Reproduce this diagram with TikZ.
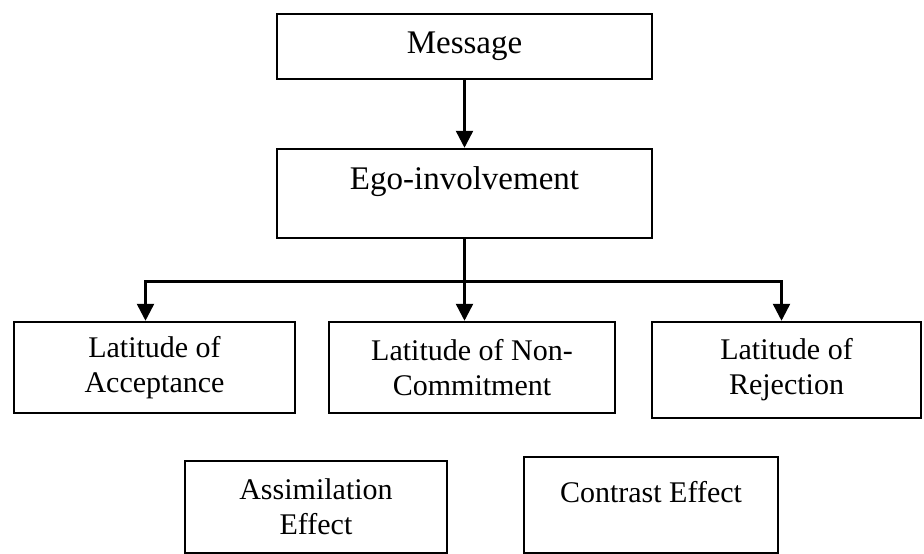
\documentclass[tikz,border=0pt]{standalone}
\usepackage{fontspec}
\setmainfont{Liberation Serif}
\usetikzlibrary{arrows.meta}

\begin{document}
\begin{tikzpicture}[
  x={(1pt,0pt)},
  y={(0pt,-1pt)},
  box/.style={draw, line width=2.5pt, inner sep=0pt,
    font=\fontsize{30}{35}\selectfont, align=center},
  bigbox/.style={box, font=\fontsize{33}{38}\selectfont},
  arr/.style={line width=2.5pt, -{Triangle[width=17pt,length=17pt]}}
]
\useasboundingbox (0,0) rectangle (924,554);

% top of the chain
\node[bigbox, minimum width=375pt, minimum height=65pt] (msg) at (464.5,46.5) {Message};
\node[bigbox, minimum width=375pt, minimum height=89pt, text depth=31pt] (ego) at (464.5,193.5) {Ego-involvement};

% the three latitudes
\node[box, minimum width=281pt, minimum height=91pt] (acc) at (154.5,367.5) {Latitude of\\Acceptance};
\node[box, minimum width=286pt, minimum height=91pt] (ncm) at (472,367.5) {Latitude of Non-\\Commitment};
\node[box, minimum width=269pt, minimum height=96pt] (rej) at (786.5,370) {Latitude of\\Rejection};

% effects
\node[box, minimum width=262pt, minimum height=92pt] (asm) at (316,507) {Assimilation\\Effect};
\node[box, minimum width=254pt, minimum height=96pt, text depth=26pt] (con) at (651,505) {Contrast Effect};

\coordinate (fork) at ([yshift=-42pt]ego.south);

\draw[arr] (msg) -- (ego);
\draw[arr] (ego.south) -- (ego.south |- ncm.north);
\draw[arr] (fork) -| ([xshift=-9pt]acc.north);
\draw[arr] (fork) -| ([xshift=-5pt]rej.north);
\end{tikzpicture}
\end{document}
